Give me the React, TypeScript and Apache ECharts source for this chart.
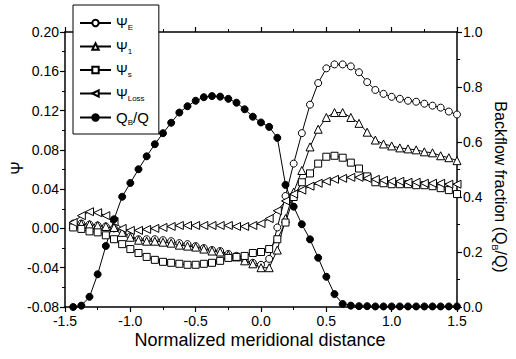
import React, { useEffect, useRef } from "react";
import * as echarts from "echarts";

const xs = [
  -1.4375, -1.375, -1.3125, -1.25, -1.1875, -1.125, -1.0625, -1.0,
  -0.9375, -0.875, -0.8125, -0.75, -0.6875, -0.625, -0.5625, -0.5,
  -0.4375, -0.375, -0.3125, -0.25, -0.1875, -0.125, -0.0625, 0.0,
  0.0625, 0.125, 0.1875, 0.25, 0.3125, 0.375, 0.4375, 0.5,
  0.5625, 0.625, 0.6875, 0.75, 0.8125, 0.875, 0.9375, 1.0,
  1.0625, 1.125, 1.1875, 1.25, 1.3125, 1.375, 1.4375, 1.5,
];

const psiE = [
  0.005, 0.005, 0.004, 0.003, 0.002, 0.0, -0.003, -0.008,
  -0.011, -0.011, -0.011, -0.012, -0.013, -0.015, -0.016, -0.018,
  -0.02, -0.022, -0.023, -0.026, -0.028, -0.032, -0.035, -0.037,
  -0.031, 0.001, 0.033, 0.066, 0.097, 0.126, 0.148, 0.163,
  0.167, 0.167, 0.165, 0.159, 0.149, 0.141, 0.137, 0.134,
  0.132, 0.13, 0.129, 0.127, 0.125, 0.123, 0.119, 0.116,
];

const psi1 = [
  0.004, 0.0045, 0.004, 0.003, 0.002, 0.001, -0.004, -0.009,
  -0.012, -0.013, -0.013, -0.014, -0.015, -0.017, -0.018, -0.019,
  -0.021, -0.023, -0.024, -0.027, -0.029, -0.033, -0.036, -0.04,
  -0.04, -0.022, 0.01, 0.037, 0.059, 0.083, 0.101, 0.113,
  0.118, 0.118, 0.113, 0.107, 0.098, 0.09, 0.086, 0.084,
  0.082, 0.081, 0.08, 0.078, 0.077, 0.074, 0.072, 0.069,
];

const psiS = [
  0.001, -0.0005, -0.003, -0.004, -0.007, -0.011, -0.016, -0.021,
  -0.025, -0.029, -0.032, -0.034, -0.035, -0.036, -0.037, -0.037,
  -0.036, -0.035, -0.033, -0.03, -0.029, -0.028, -0.025, -0.024,
  -0.021, -0.011, 0.006, 0.032, 0.047, 0.056, 0.066, 0.073,
  0.074, 0.072, 0.067, 0.061, 0.053, 0.047, 0.046, 0.045,
  0.045, 0.045, 0.044, 0.044, 0.043, 0.041, 0.039, 0.035,
];

const psiLoss = [
  0.006, 0.013, 0.017, 0.016, 0.013, 0.007, 0.0, -0.002,
  -0.002, -0.001, 0.0, 0.001, 0.002, 0.003, 0.003, 0.003,
  0.003, 0.003, 0.003, 0.003, 0.002, 0.002, 0.003, 0.005,
  0.01, 0.018, 0.028, 0.035, 0.039, 0.043, 0.046, 0.048,
  0.05, 0.051, 0.052, 0.052, 0.051, 0.05, 0.049, 0.048,
  0.048, 0.047, 0.047, 0.046, 0.046, 0.046, 0.045, 0.045,
];

const backflow = [
  0.0, 0.005, 0.037, 0.119, 0.222, 0.319, 0.401, 0.451,
  0.501, 0.548, 0.592, 0.632, 0.67, 0.707, 0.73, 0.75,
  0.763, 0.767, 0.765, 0.757, 0.743, 0.719, 0.692, 0.671,
  0.655, 0.615, 0.444, 0.365, 0.301, 0.246, 0.179, 0.11,
  0.047, 0.011, 0.005, 0.003, 0.003, 0.002, 0.002, 0.002,
  0.002, 0.002, 0.002, 0.002, 0.002, 0.002, 0.002, 0.002,
];

const FONT = "'Liberation Sans', Arial, sans-serif";

export default function App() {
  const ref = useRef<HTMLDivElement>(null);
  useEffect(() => {
    if (!ref.current) return;
    const chart = echarts.init(ref.current, undefined, { renderer: "svg" });
    const pair = (arr: number[]) => xs.map((x, i) => [x, arr[i]]);
    const baseLine = { color: "#000", width: 1 };
    const mk = (
      name: string,
      arr: number[],
      symbol: string,
      filled: boolean,
      yAxisIndex: number,
      rotate = 0,
      size = 7
    ) => ({
      name,
      type: "line",
      xAxisIndex: 0,
      yAxisIndex,
      data: pair(arr),
      symbol,
      symbolSize: size,
      symbolRotate: rotate,
      showAllSymbol: true,
      lineStyle: baseLine,
      itemStyle: {
        color: filled ? "#000" : "#fff",
        borderColor: "#000",
        borderWidth: 1,
      },
    });
    const axisCommon = {
      axisLine: { show: true, onZero: false, lineStyle: { color: "#000", width: 1.5 } },
      axisTick: { show: true, inside: false, length: 5, lineStyle: { color: "#000", width: 1.2 } },
      minorTick: { show: true, splitNumber: 2, length: 3, lineStyle: { color: "#000", width: 1 } },
      splitLine: { show: false },
      axisLabel: { color: "#000", fontFamily: FONT, fontSize: 14 },
    };
    const legendNames: Record<string, string> = {
      PE: "{a|Ψ}{s|E}",
      P1: "{a|Ψ}{s|1}",
      PS: "{a|Ψ}{s|s}",
      PL: "{a|Ψ}{s|Loss}",
      QB: "{q|Q}{s|B}{q|/Q}",
    };
    chart.setOption({
      animation: false,
      grid: { left: 65, right: 59, top: 32, bottom: 52 },
      xAxis: [
        {
          type: "value",
          min: -1.5,
          max: 1.5,
          interval: 0.5,
          position: "bottom",
          ...axisCommon,
          axisLabel: {
            ...axisCommon.axisLabel,
            margin: 7,
            formatter: (v: number) => v.toFixed(1),
          },
        },
        {
          type: "value",
          min: -1.5,
          max: 1.5,
          interval: 0.5,
          position: "top",
          ...axisCommon,
          axisLabel: { show: false },
        },
      ],
      yAxis: [
        {
          type: "value",
          min: -0.08,
          max: 0.2,
          interval: 0.04,
          position: "left",
          ...axisCommon,
          axisLabel: {
            ...axisCommon.axisLabel,
            margin: 6,
            formatter: (v: number) => v.toFixed(2),
          },
        },
        {
          type: "value",
          min: 0,
          max: 1,
          interval: 0.2,
          position: "right",
          ...axisCommon,
          axisLabel: {
            ...axisCommon.axisLabel,
            margin: 6,
            formatter: (v: number) => v.toFixed(1),
          },
        },
      ],
      legend: {
        orient: "vertical",
        left: 73,
        top: 5,
        data: ["PE", "P1", "PS", "PL", "QB"],
        itemWidth: 31,
        itemHeight: 8,
        itemGap: 8,
        padding: [11, 10, 8, 6],
        backgroundColor: "#fff",
        borderColor: "#000",
        borderWidth: 1,
        formatter: (n: string) => legendNames[n],
        textStyle: {
          color: "#000",
          fontFamily: FONT,
          rich: {
            a: { fontSize: 14, fontFamily: FONT, color: "#000" },
            q: { fontSize: 15, fontFamily: FONT, color: "#000" },
            s: { fontSize: 8, fontFamily: FONT, color: "#000", padding: [9, 0, 0, 0] },
          },
        },
      },
      graphic: [
        {
          type: "text",
          x: 17,
          y: 168,
          rotation: Math.PI / 2,
          style: {
            text: "Ψ",
            font: `16px ${FONT}`,
            fill: "#000",
            align: "center",
            verticalAlign: "middle",
          },
        },
        {
          type: "text",
          x: 500,
          y: 187,
          rotation: -Math.PI / 2,
          style: {
            text: "Backflow fraction (Q{s|B}/Q)",
            font: `16px ${FONT}`,
            fill: "#000",
            align: "center",
            verticalAlign: "middle",
            rich: {
              s: { fontSize: 9, fontFamily: FONT, fill: "#000", padding: [10, 0, 0, 0] },
            },
          },
        },
        {
          type: "text",
          x: 260,
          y: 340,
          style: {
            text: "Normalized meridional distance",
            font: `18px ${FONT}`,
            fill: "#000",
            align: "center",
            verticalAlign: "middle",
          },
        },
      ],
      series: [
        mk("PE", psiE, "circle", false, 0),
        mk("P1", psi1, "triangle", false, 0, 0, 8),
        mk("PS", psiS, "rect", false, 0, 0, 7),
        mk("PL", psiLoss, "triangle", false, 0, 90, 8),
        mk("QB", backflow, "circle", true, 1),
      ],
    });
    return () => chart.dispose();
  }, []);
  return <div ref={ref} style={{ width: 516, height: 359, position: "absolute", left: 0, top: 0 }} />;
}
